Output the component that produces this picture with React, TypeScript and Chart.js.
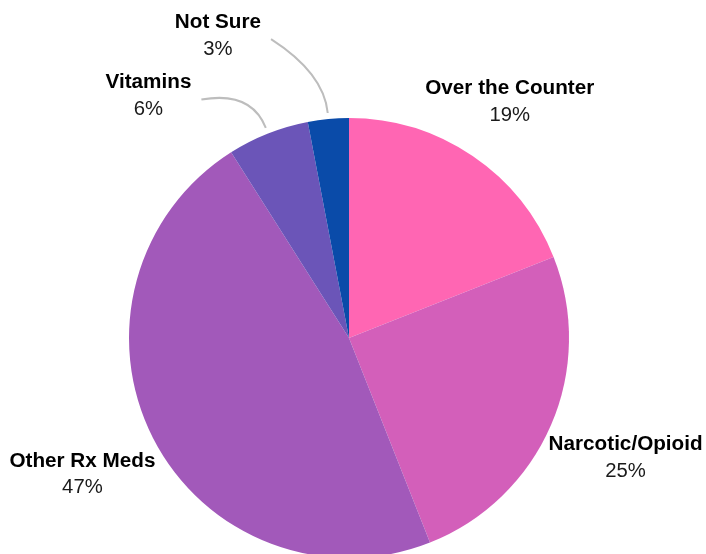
import React, { useEffect, useRef } from "react";
import { Chart, registerables } from "chart.js";

Chart.register(...registerables);

const categories = ["Over the Counter", "Narcotic/Opioid", "Other Rx Meds", "Vitamins", "Not Sure"];
const values = [19, 25, 47, 6, 3];
const colors = ["#FF66B3", "#D35FBA", "#A259BA", "#6B55B8", "#0A4BA9"];

// label placement: distance factor (x radius) and angular shift (degrees), leader line flag
const labelPlacement = [
  { dist: 1.3, shift: 0, leader: false },
  { dist: 1.37, shift: 0, leader: false },
  { dist: 1.36, shift: 0, leader: false },
  { dist: 1.43, shift: -18, leader: true },
  { dist: 1.5, shift: -18, leader: true },
];

const FONT = '"Liberation Sans", Arial, sans-serif';

const labelPlugin = {
  id: "pieLabels",
  afterDraw(chart: any) {
    const ctx = chart.ctx;
    const meta = chart.getDatasetMeta(0);
    const total = values.reduce((a, b) => a + b, 0);
    ctx.save();
    meta.data.forEach((arc: any, i: number) => {
      const { x: cx, y: cy, outerRadius: R, startAngle, endAngle } = arc.getProps(
        ["x", "y", "outerRadius", "startAngle", "endAngle"],
        true
      );
      const mid = (startAngle + endAngle) / 2;
      const p = labelPlacement[i];
      const a = mid + (p.shift * Math.PI) / 180;
      const lx = cx + Math.cos(a) * R * p.dist;
      const ly = cy + Math.sin(a) * R * p.dist;
      const pct = Math.round((values[i] / total) * 100) + "%";

      ctx.textAlign = "center";
      ctx.textBaseline = "middle";
      ctx.font = `bold 20.7px ${FONT}`;
      ctx.fillStyle = "#000000";
      ctx.fillText(categories[i], lx, ly - 13);
      const w = ctx.measureText(categories[i]).width;
      ctx.font = `20.3px ${FONT}`;
      ctx.fillStyle = "#1a1a1a";
      ctx.fillText(pct, lx, ly + 14);

      if (p.leader) {
        const sx = cx + Math.cos(mid) * (R + 6);
        const sy = cy + Math.sin(mid) * (R + 6);
        const len = 40;
        const qx = sx + Math.cos(mid) * len;
        const qy = sy + Math.sin(mid) * len;
        const ex = lx + w / 2 + 10;
        const ey = ly + 4;
        ctx.beginPath();
        ctx.moveTo(sx, sy);
        ctx.quadraticCurveTo(qx, qy, ex, ey);
        ctx.strokeStyle = "#BDBDBD";
        ctx.lineWidth = 2;
        ctx.stroke();
      }
    });
    ctx.restore();
  },
};

export default function App() {
  const ref = useRef<HTMLCanvasElement | null>(null);
  useEffect(() => {
    if (!ref.current) return;
    const chart = new Chart(ref.current, {
      type: "pie",
      data: {
        labels: categories,
        datasets: [
          {
            data: values,
            backgroundColor: colors,
            borderWidth: 0,
          },
        ],
      },
      options: {
        responsive: false,
        animation: false,
        layout: { padding: { left: 129, right: 137, top: 118, bottom: 42 } },
        plugins: {
          legend: { display: false },
          tooltip: { enabled: false },
        },
      },
      plugins: [labelPlugin],
    });
    return () => chart.destroy();
  }, []);
  return (
    <div
      style={{
        position: "fixed",
        left: 0,
        top: 0,
        width: 706,
        height: 554,
        overflow: "hidden",
        background: "#ffffff",
      }}
    >
      <canvas ref={ref} width={706} height={600} style={{ width: 706, height: 600, display: "block" }} />
    </div>
  );
}
